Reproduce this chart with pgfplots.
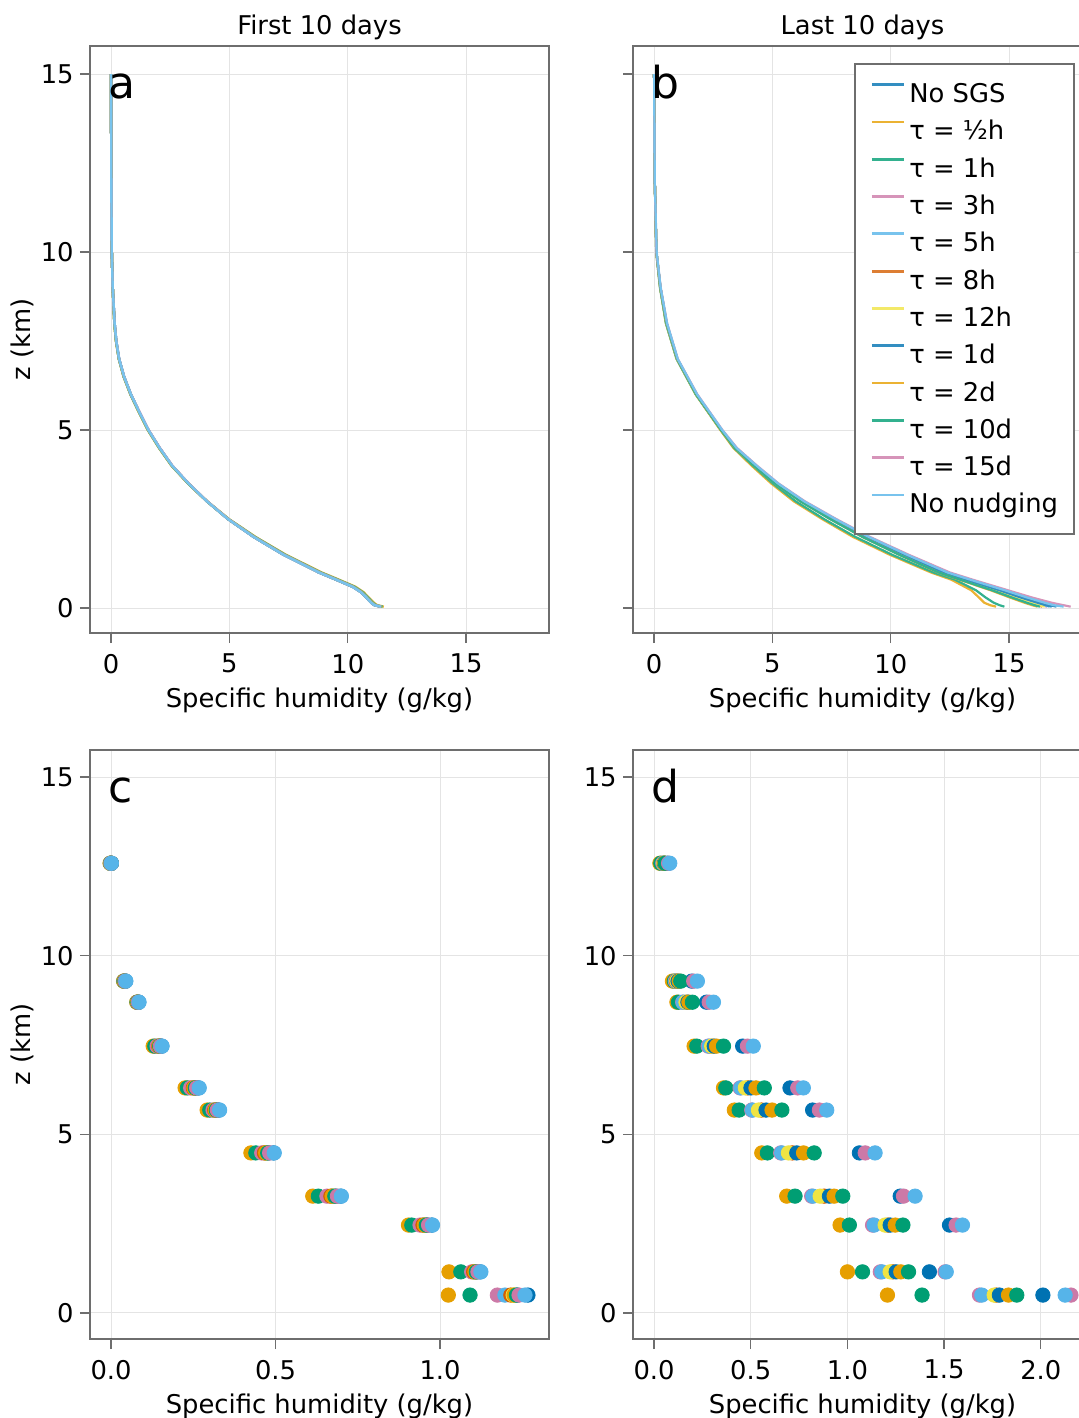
\documentclass[border=0pt]{standalone}
\usepackage{fontspec}
\setmainfont{DejaVu Sans}
\usepackage{pgfplots}
\usepackage{pgfplotstable}
\pgfplotsset{compat=1.18}

\definecolor{wblue}{RGB}{0,114,178}
\definecolor{worange}{RGB}{230,159,0}
\definecolor{wgreen}{RGB}{0,158,115}
\definecolor{wpink}{RGB}{204,121,167}
\definecolor{wsky}{RGB}{86,180,233}
\definecolor{wverm}{RGB}{213,94,0}
\definecolor{wyellow}{RGB}{240,228,66}
\colorlet{c1}{wblue}\colorlet{c2}{worange}\colorlet{c3}{wgreen}\colorlet{c4}{wpink}
\colorlet{c5}{wsky}\colorlet{c6}{wverm}\colorlet{c7}{wyellow}\colorlet{c8}{wblue}
\colorlet{c9}{worange}\colorlet{c10}{wgreen}\colorlet{c11}{wpink}\colorlet{c12}{wsky}
\definecolor{framegray}{RGB}{110,110,110}
\definecolor{gridgray}{RGB}{228,228,228}

% Panel a: first 10 days, profiles
\pgfplotstableread{
z     s1    s2    s3    s4    s5    s6    s7    s8    s9    s10   s11   s12
15.0  0.00  0.00  0.00  0.00  0.00  0.00  0.00  0.00  0.00  0.00  0.00  0.00
12.0  0.01  0.01  0.01  0.01  0.01  0.01  0.01  0.01  0.01  0.01  0.01  0.01
10.0  0.03  0.03  0.03  0.03  0.03  0.03  0.03  0.03  0.03  0.03  0.03  0.03
9.0   0.07  0.07  0.07  0.07  0.07  0.07  0.07  0.07  0.07  0.07  0.07  0.07
8.0   0.15  0.14  0.14  0.15  0.15  0.14  0.14  0.15  0.14  0.14  0.15  0.15
7.5   0.22  0.21  0.21  0.22  0.22  0.21  0.21  0.22  0.21  0.21  0.22  0.22
7.0   0.34  0.33  0.33  0.34  0.34  0.33  0.33  0.34  0.33  0.33  0.34  0.34
6.5   0.55  0.53  0.53  0.55  0.55  0.54  0.54  0.55  0.54  0.54  0.55  0.55
6.0   0.84  0.82  0.82  0.84  0.84  0.83  0.83  0.84  0.83  0.83  0.84  0.84
5.5   1.20  1.17  1.18  1.20  1.20  1.19  1.19  1.20  1.19  1.19  1.21  1.20
5.0   1.58  1.55  1.56  1.58  1.58  1.57  1.57  1.58  1.57  1.57  1.59  1.58
4.5   2.05  2.02  2.03  2.05  2.05  2.04  2.04  2.05  2.04  2.04  2.06  2.05
4.0   2.58  2.55  2.56  2.58  2.58  2.57  2.57  2.58  2.57  2.57  2.59  2.58
3.5   3.27  3.25  3.26  3.27  3.27  3.26  3.26  3.27  3.26  3.26  3.28  3.27
3.0   4.05  4.06  4.05  4.05  4.05  4.05  4.05  4.05  4.05  4.05  4.06  4.05
2.5   4.94  4.98  4.97  4.94  4.94  4.95  4.95  4.94  4.95  4.95  4.95  4.94
2.0   6.02  6.10  6.08  6.02  6.02  6.04  6.04  6.02  6.04  6.04  6.03  6.02
1.5   7.28  7.38  7.35  7.28  7.28  7.30  7.30  7.28  7.30  7.30  7.29  7.28
1.0   8.78  8.90  8.86  8.78  8.78  8.80  8.80  8.78  8.80  8.80  8.79  8.78
0.8   9.50  9.62  9.58  9.50  9.50  9.52  9.52  9.50  9.52  9.52  9.51  9.50
0.6   10.20 10.32 10.28 10.20 10.20 10.22 10.22 10.20 10.22 10.22 10.21 10.20
0.45  10.55 10.66 10.62 10.55 10.55 10.57 10.57 10.55 10.57 10.57 10.56 10.55
0.3   10.78 10.88 10.85 10.78 10.78 10.80 10.80 10.78 10.80 10.80 10.79 10.78
0.15  10.99 11.10 11.06 10.99 10.99 11.01 11.01 10.99 11.01 11.01 11.00 10.99
0.08  11.13 11.25 11.20 11.13 11.13 11.15 11.15 11.13 11.15 11.15 11.14 11.13
0.04  11.40 11.52 11.47 11.40 11.38 11.42 11.42 11.40 11.42 11.42 11.41 11.40
}\tabA

% Panel b: last 10 days, profiles
\pgfplotstableread{
z     s1     s2     s3     s4     s5     s6     s7     s8     s9     s10    s11    s12
15.0  0.00   0.00   0.00   0.00   0.00   0.00   0.00   0.00   0.00   0.00   0.00   0.00
12.0  0.03   0.03   0.03   0.03   0.03   0.03   0.03   0.03   0.03   0.03   0.03   0.03
10.0  0.10   0.09   0.09   0.10   0.10   0.10   0.10   0.10   0.10   0.10   0.10   0.11
9.0   0.27   0.25   0.25   0.27   0.27   0.27   0.27   0.27   0.26   0.26   0.28   0.28
8.0   0.53   0.50   0.50   0.53   0.53   0.52   0.52   0.53   0.52   0.52   0.55   0.55
7.0   0.98   0.95   0.95   0.98   0.98   0.97   0.97   0.98   0.97   0.97   1.00   1.00
6.0   1.80   1.76   1.76   1.80   1.80   1.78   1.78   1.80   1.78   1.78   1.83   1.82
5.0   2.85   2.80   2.82   2.85   2.85   2.83   2.83   2.85   2.83   2.83   2.89   2.88
4.5   3.45   3.35   3.38   3.45   3.45   3.43   3.43   3.45   3.42   3.42   3.50   3.48
4.0   4.30   4.12   4.18   4.28   4.28   4.25   4.25   4.28   4.22   4.22   4.35   4.33
3.5   5.20   4.95   5.02   5.18   5.18   5.14   5.14   5.18   5.10   5.10   5.26   5.24
3.0   6.30   5.90   5.98   6.27   6.27   6.22   6.22   6.27   6.18   6.18   6.37   6.34
2.5   7.60   7.10   7.18   7.55   7.55   7.48   7.48   7.55   7.44   7.44   7.70   7.66
2.0   9.00   8.40   8.50   8.95   8.95   8.86   8.86   8.95   8.80   8.80   9.12   9.07
1.5   10.60  9.95   10.05  10.53  10.53  10.42  10.42  10.53  10.35  10.35  10.75  10.68
1.0   12.30  11.70  11.80  12.20  12.22  12.08  12.10  12.23  12.00  12.02  12.50  12.40
0.8   13.25  12.55  12.70  13.12  13.15  12.98  13.00  13.16  12.88  12.92  13.45  13.35
0.5   14.70  13.40  13.60  14.52  14.58  14.35  14.40  14.60  14.22  14.28  14.95  14.82
0.3   15.60  13.72  14.00  15.38  15.45  15.18  15.25  15.48  15.02  15.10  15.95  15.75
0.15  16.35  13.95  14.35  16.05  16.15  15.82  15.92  16.20  15.65  15.75  16.80  16.50
0.08  16.75  14.20  14.60  16.40  16.50  16.18  16.28  16.55  15.98  16.08  17.30  16.90
0.04  17.00  14.45  14.80  16.60  16.70  16.40  16.50  16.80  16.20  16.30  17.60  17.30
}\tabB

% Panel c: first 10 days, levels
\pgfplotstableread{
z     s1     s2     s3     s4     s5     s6     s7     s8     s9     s10    s11    s12
12.59 0.001  -0.003 -0.002 -0.001 0.000  0.000  0.000  0.001  0.000  0.000  0.000  0.001
9.29  0.044  0.038  0.039  0.040  0.042  0.041  0.042  0.043  0.041  0.042  0.043  0.045
8.70  0.084  0.078  0.079  0.080  0.082  0.081  0.082  0.083  0.081  0.082  0.083  0.085
7.47  0.154  0.128  0.133  0.140  0.146  0.145  0.147  0.150  0.146  0.148  0.150  0.155
6.30  0.266  0.225  0.232  0.242  0.252  0.250  0.254  0.258  0.252  0.256  0.260  0.268
5.68  0.328  0.292  0.300  0.310  0.316  0.315  0.318  0.322  0.317  0.320  0.323  0.330
4.48  0.494  0.425  0.440  0.458  0.470  0.466  0.474  0.480  0.470  0.476  0.482  0.496
3.27  0.698  0.613  0.630  0.656  0.672  0.668  0.676  0.684  0.672  0.680  0.688  0.700
2.46  0.975  0.904  0.914  0.939  0.952  0.948  0.955  0.962  0.952  0.958  0.965  0.977
1.15  1.122  1.027  1.063  1.096  1.105  1.102  1.108  1.112  1.106  1.110  1.115  1.124
0.50  1.267  1.025  1.091  1.174  1.197  1.215  1.222  1.235  1.225  1.232  1.240  1.258
}\tabC

% Panel d: last 10 days, levels
\pgfplotstableread{
z     s1     s2     s3     s4     s5     s6     s7     s8     s9     s10    s11    s12
12.59 0.070  0.030  0.035  0.045  0.047  0.050  0.050  0.053  0.055  0.058  0.075  0.081
9.29  0.195  0.095  0.105  0.110  0.112  0.116  0.118  0.124  0.130  0.138  0.205  0.224
8.70  0.271  0.118  0.126  0.148  0.150  0.168  0.165  0.175  0.180  0.198  0.285  0.307
7.47  0.458  0.207  0.221  0.280  0.285  0.300  0.298  0.311  0.323  0.359  0.483  0.513
6.30  0.703  0.359  0.371  0.445  0.449  0.485  0.472  0.501  0.527  0.570  0.743  0.772
5.68  0.820  0.415  0.440  0.505  0.509  0.555  0.540  0.579  0.610  0.661  0.855  0.893
4.48  1.062  0.557  0.586  0.655  0.660  0.715  0.695  0.738  0.773  0.828  1.092  1.143
3.27  1.273  0.686  0.729  0.815  0.821  0.880  0.859  0.907  0.931  0.976  1.290  1.350
2.46  1.528  0.962  1.010  1.130  1.138  1.210  1.195  1.221  1.247  1.287  1.562  1.595
1.15  1.424  1.000  1.078  1.170  1.178  1.235  1.221  1.252  1.276  1.316  1.505  1.511
0.50  2.011  1.207  1.386  1.683  1.695  1.770  1.759  1.786  1.833  1.876  2.156  2.126
}\tabD

\tikzset{letter/.style={anchor=base west, inner sep=0pt, font=\fontsize{22}{22}\selectfont, xshift=9pt, yshift=-26pt}}

\pgfplotsset{
  panel/.style={
    scale only axis, width=229.5pt, height=293.5pt, anchor=north west,
    axis line style={line width=1pt, draw=framegray},
    tick pos=left, tick align=outside, major tick length=5pt,
    tick style={line width=0.7pt, draw=framegray},
    grid=major, grid style={line width=0.5pt, draw=gridgray},
    /pgf/number format/assume math mode=true,
    scaled ticks=false,
    ytick={0,5,10,15},
    xticklabel style={anchor=north, inner sep=0pt, yshift=-5.3pt},
    yticklabel style={anchor=east, inner sep=0pt, xshift=-3pt},
    xlabel style={at={(axis description cs:0.5,-0.1269)}, anchor=base, inner sep=0pt},
    ylabel style={at={(axis description cs:-0.1307,0.5)}, anchor=base, inner sep=0pt},
    title style={at={(axis description cs:0.5,0.9991)}, anchor=base, inner sep=0pt},
    xlabel={Specific humidity (g/kg)},
  },
  toppanel/.style={panel, ymin=-0.70, ymax=15.79, xmin=-0.89, xmax=18.5, xtick={0,5,10,15}},
  botpanel/.style={panel, height=294.5pt, ymin=-0.73, ymax=15.76, xtick={0,0.5,1,1.5,2},
    xticklabel style={/pgf/number format/.cd, fixed, fixed zerofill, precision=1}},
}

\begin{document}
\begin{tikzpicture}[font=\fontsize{12.9}{15.5}\selectfont]

\begin{axis}[toppanel, at={(45pt,-23pt)}, ylabel={z (km)}, title={First 10 days}]
\pgfplotsinvokeforeach{1,...,12}{
  \addplot[c#1!80!white, line width=1.2pt, line join=round] table[x=s#1, y=z]{\tabA};
}
\node[letter] at (rel axis cs:0,1) {a};
\end{axis}

\begin{axis}[toppanel, at={(316.5pt,-23pt)}, yticklabels={}, title={Last 10 days},
  legend style={at={(rel axis cs:1,1)}, anchor=north east, xshift=-8.5pt, yshift=-8.5pt,
    draw=framegray, line width=1pt, inner xsep=8pt, inner ysep=8.3pt, row sep=5.65pt,
    nodes={inner sep=0pt, text height=11pt, text depth=2pt},
    /tikz/every odd column/.append style={column sep=2pt}},
  legend cell align=left,
  legend image code/.code={\draw[#1, line width=1.4pt] (0pt,4.5pt) -- (16pt,4.5pt);}]
\pgfplotsinvokeforeach{1,...,12}{
  \addplot[c#1!80!white, line width=1.1pt, line join=round] table[x=s#1, y=z]{\tabB};
}
\legend{{No SGS},{τ = ½h},{τ = 1h},{τ = 3h},{τ = 5h},{τ = 8h},{τ = 12h},{τ = 1d},{τ = 2d},{τ = 10d},{τ = 15d},{No nudging}}
\node[letter] at (rel axis cs:0,1) {b};
\end{axis}

\begin{axis}[botpanel, at={(45pt,-375pt)}, xmin=-0.064, xmax=1.331, ylabel={z (km)}]
\pgfplotsinvokeforeach{1,...,12}{
  \addplot[only marks, mark=*, mark size=3.6pt, color=c#1, mark options={draw=none, fill=c#1}] table[x=s#1, y=z]{\tabC};
}
\node[letter] at (rel axis cs:0,1) {c};
\end{axis}

\begin{axis}[botpanel, at={(316.5pt,-375pt)}, xmin=-0.109, xmax=2.265]
\pgfplotsinvokeforeach{1,...,12}{
  \addplot[only marks, mark=*, mark size=3.6pt, color=c#1, mark options={draw=none, fill=c#1}] table[x=s#1, y=z]{\tabD};
}
\node[letter] at (rel axis cs:0,1) {d};
\end{axis}

\pgfresetboundingbox
\path[use as bounding box] (0pt,0pt) rectangle (539.5pt,-709pt);
\end{tikzpicture}
\end{document}
